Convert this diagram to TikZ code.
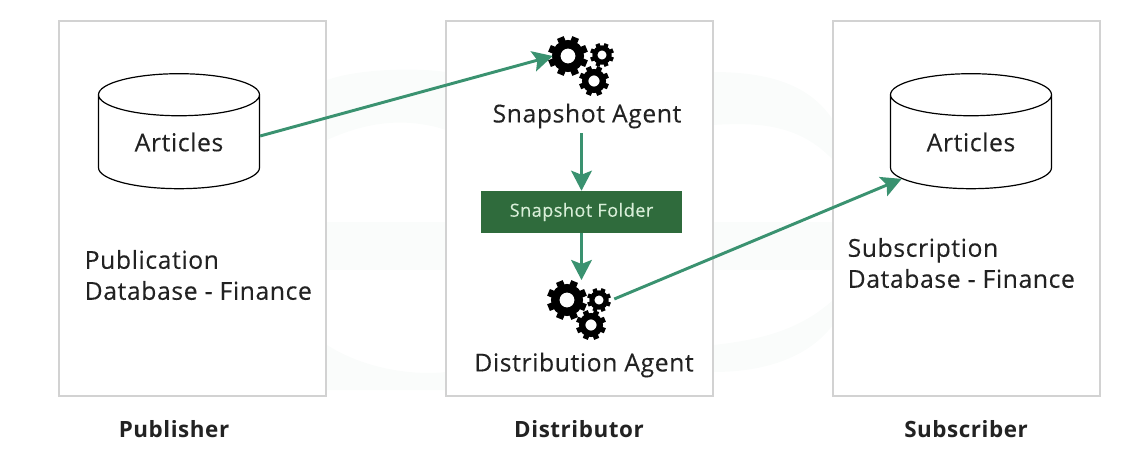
\documentclass[tikz,border=0pt]{standalone}
\usepackage{fontspec}
\setmainfont{Open Sans}[LetterSpace=2.5, FakeBold=0.25, BoldFeatures={FakeBold=0}]
\usetikzlibrary{arrows.meta,shapes.geometric}
\definecolor{arrowgreen}{HTML}{3A9270}
\definecolor{foldergreen}{HTML}{2F6B3C}
\definecolor{foldertext}{HTML}{D8EED8}
\definecolor{boxgray}{HTML}{D2D2D2}
\definecolor{inkgray}{HTML}{222222}
\definecolor{paleshade}{HTML}{FAFCFB}
% Cog: centre x, centre y, outer radius
\newcommand{\gearcog}[3]{
    \begin{scope}[shift={(#1,#2)}]
        \foreach \a in {0,45,...,315}
            \draw[line width=#3*0.27pt, black] (\a+22.5:{0.7*#3}) -- (\a+22.5:#3);
        \draw[line width=#3*0.315pt, black] (0,0) circle [radius={0.59*#3}];
    \end{scope}
}
\begin{document}
\begin{tikzpicture}[
        x=0.75pt, y=-0.75pt,
        node distance=72pt,
        % Box styles
        serverbox/.style={rectangle, draw=boxgray, line width=1.1pt, fill=white, minimum width=200.25pt, minimum height=281.25pt},
        dbcyl/.style={cylinder, shape border rotate=90, shape aspect=0.475, draw=black, line width=0.9pt, minimum width=120.75pt, minimum height=86.25pt, inner sep=0pt, text=inkgray, font=\fontsize{18.5}{22}\selectfont},
        folderbox/.style={rectangle, fill=foldergreen, minimum width=150.75pt, minimum height=31.5pt, text=foldertext, font=\fontsize{13.6}{15}\selectfont},
        gearspot/.style={circle, inner sep=0pt, minimum size=22.5pt},
        agentlabel/.style={text=inkgray, font=\fontsize{18.5}{22}\selectfont},
        dblabel/.style={anchor=west, align=left, text=inkgray, font=\fontsize{18.5}{23.25}\selectfont},
        rolelabel/.style={text=inkgray, font=\fontsize{16.8}{22}\selectfont\bfseries},
        arrow/.style={line width=2.2pt, arrowgreen, -{Stealth[length=15pt, width=15.5pt, inset=3pt]}}
    ]
        \useasboundingbox (0,0) rectangle (1146,458);

        % Faint backdrop
        \fill[paleshade] (327,80) .. controls (360,68) and (420,68) .. (446,72) -- (446,130) .. controls (400,115) and (360,125) .. (327,140) -- cycle;
        \fill[paleshade] (327,222) rectangle (446,270);
        \fill[paleshade] (327,345) .. controls (370,372) and (420,375) .. (446,372) -- (446,390) -- (327,390) -- cycle;
        \fill[paleshade] (713,72) .. controls (770,72) and (810,85) .. (833,120) -- (833,160) .. controls (800,125) and (760,122) .. (713,125) -- cycle;
        \fill[paleshade] (713,222) rectangle (833,270);
        \fill[paleshade] (713,372) .. controls (770,372) and (810,355) .. (833,325) -- (833,300) .. controls (800,330) and (760,340) .. (713,345) -- cycle;

        % Servers
        \node (pubbox) [serverbox] at (192.5,208.5) {};
        \node (distbox) [serverbox] at (579.5,208.5) {};
        \node (subbox) [serverbox] at (966.5,208.5) {};

        % Databases
        \node (pubdb) [dbcyl] at (179,142) {Articles};
        \node (subdb) [dbcyl] at (971,142) {Articles};
        \node (publabel) [dblabel] at (80,275) {Publication\\Database - Finance};
        \node (sublabel) [dblabel] at (843,263) {Subscription\\Database - Finance};

        % Snapshot side
        \gearcog{568}{56}{20}
        \gearcog{602}{55}{12}
        \gearcog{594}{81}{15}
        \node (snapgear) [gearspot] at (568,56) {};
        \node (snapagent) [agentlabel] at (587,116) {Snapshot Agent};
        \node (folder) [folderbox, below of=snapagent, xshift=-4.125pt] {Snapshot Folder\hspace{6pt}};

        % Distribution side
        \gearcog{567}{300}{20}
        \gearcog{599}{300}{12}
        \gearcog{591}{325}{15}
        \node (distgear) [gearspot] at (599,299) {};
        \node (distagent) [agentlabel] at (584,365) {Distribution Agent};

        % Bottom titles
        \node (publisher) [rolelabel] at (174,429) {Publisher};
        \node (distributor) [rolelabel] at (579,429) {Distributor};
        \node (subscriber) [rolelabel] at (966,429) {Subscriber};

        % Connections
        \draw[arrow] ([yshift=4.5pt]pubdb.east) -- (snapgear.west);
        \draw[arrow] (folder.north |- snapagent.south) -- (folder.north);
        \draw[arrow] (folder.south) -- (folder.south |- 0,280);
        \draw[arrow] (distgear.east) -- (subdb.208);

    \end{tikzpicture}
\end{document}
